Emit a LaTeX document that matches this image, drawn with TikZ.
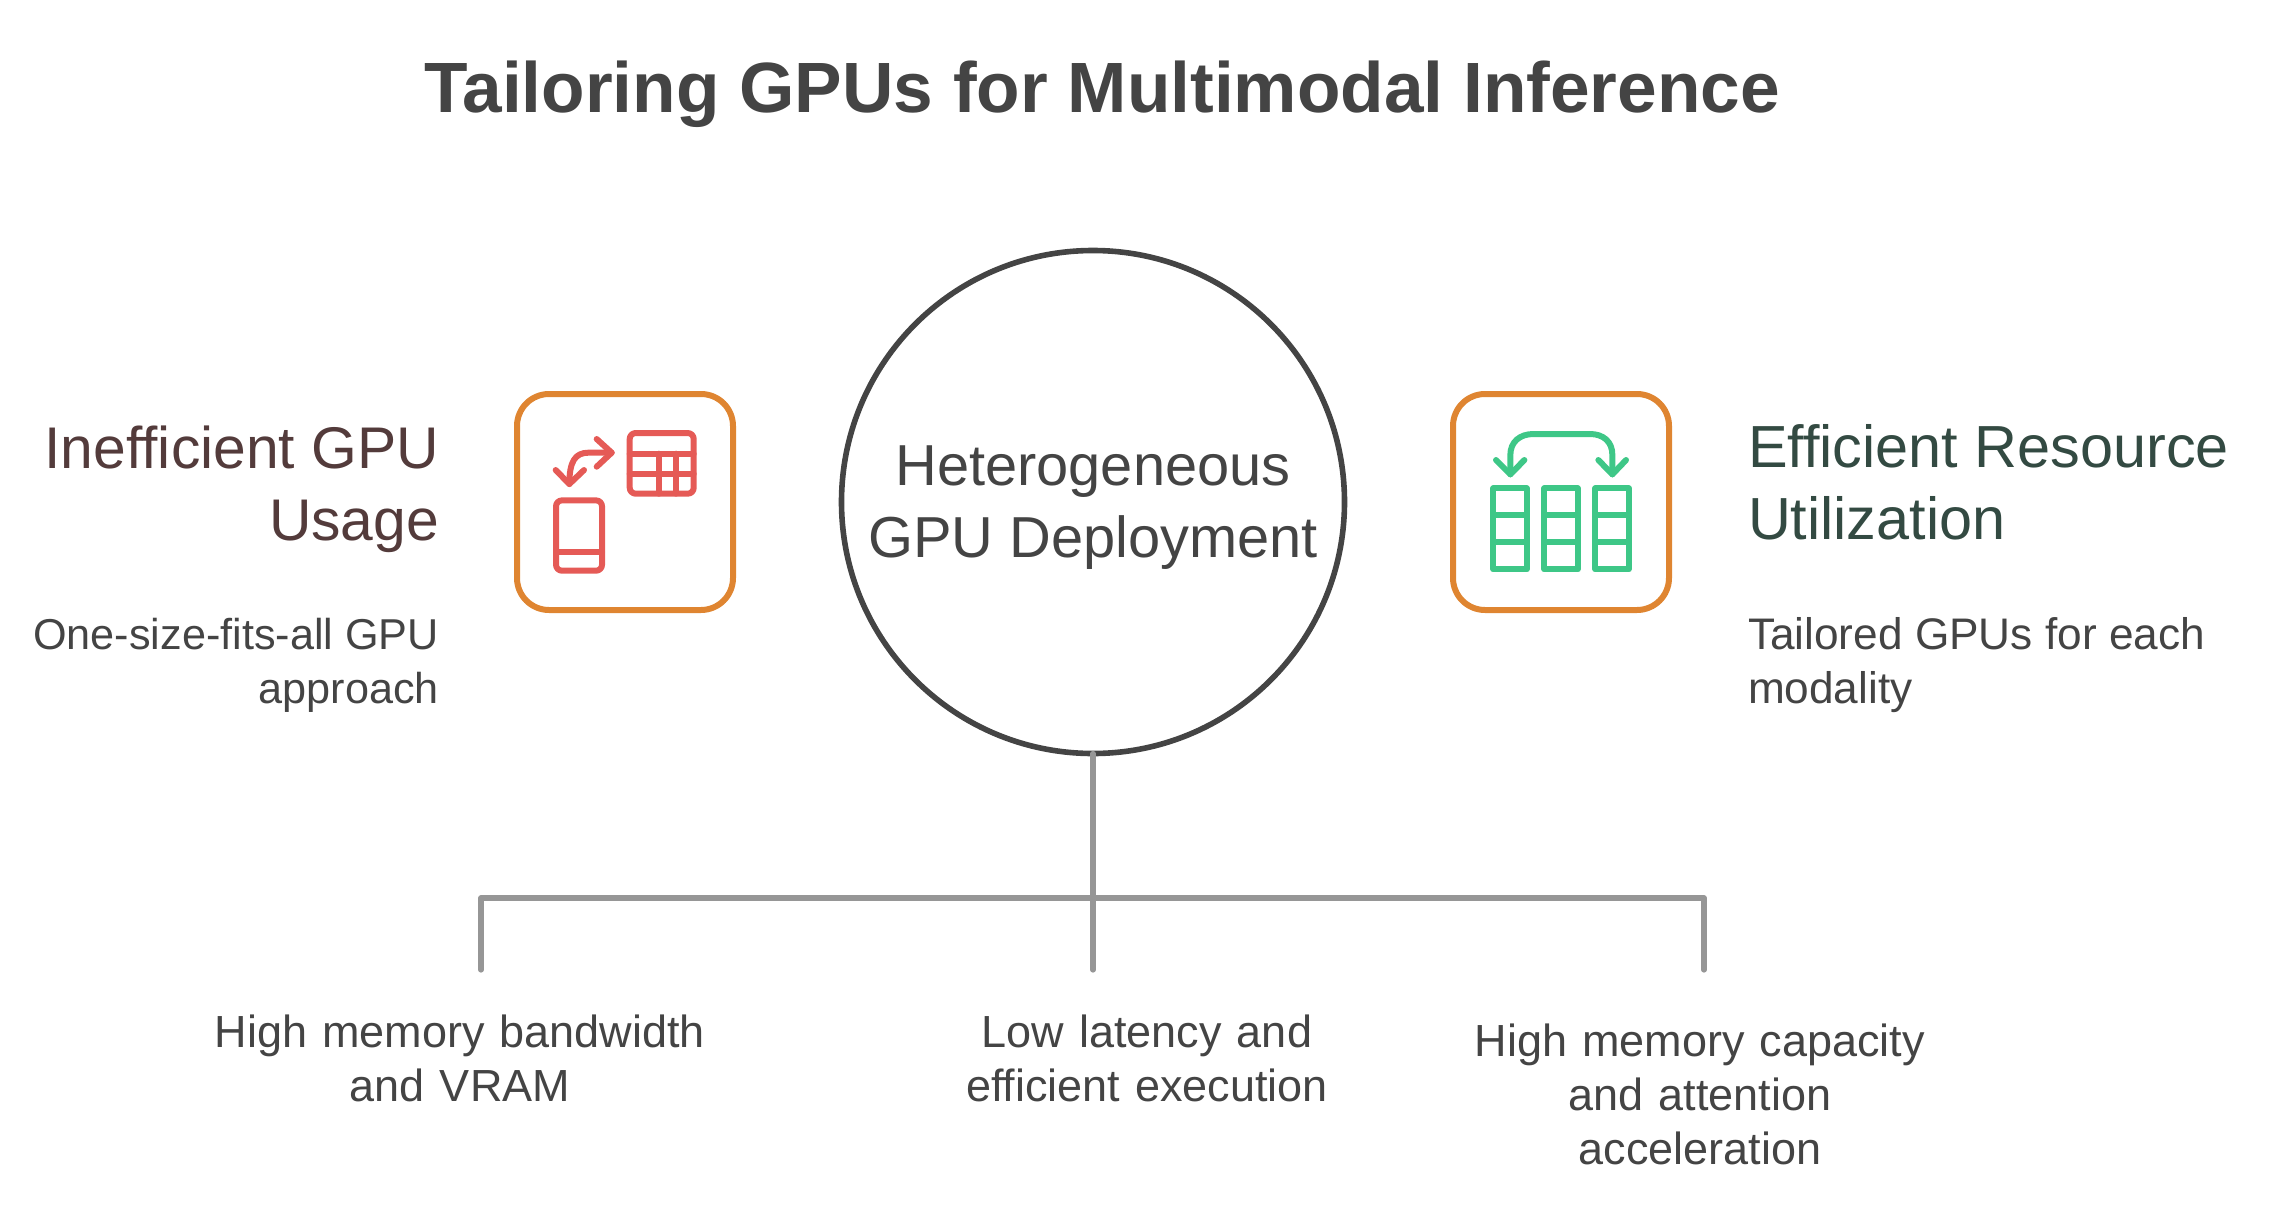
\documentclass[tikz,border=0pt]{standalone}
\usepackage{fontspec}
\setmainfont{Liberation Sans}
\usetikzlibrary{positioning}
\definecolor{darktxt}{HTML}{444444}
\definecolor{lefttxt}{HTML}{533B3B}
\definecolor{righttxt}{HTML}{334A42}
\definecolor{boxline}{HTML}{DF8531}
\definecolor{redicon}{HTML}{E55A56}
\definecolor{greenicon}{HTML}{3EC787}
\definecolor{branch}{HTML}{969696}

\begin{document}
\begin{tikzpicture}[
    x=0.5pt,
    y=-0.5pt,
    outer sep=0pt,
    inner sep=0pt,
    iconbox/.style={
        draw=boxline,
        line width=3pt,
        rounded corners=16pt,
        minimum size=108pt
    },
    hub/.style={
        draw=darktxt,
        line width=2.8pt,
        circle,
        minimum size=251.5pt
    },
    hubtxt/.style={
        align=center,
        text=darktxt,
        font=\fontsize{28.9}{36}\selectfont
    },
    head/.style={font=\fontsize{29.7}{36}\selectfont},
    body/.style={text=darktxt, font=\fontsize{22.5}{27}\selectfont},
    iconline/.style={line width=3pt, line cap=round, line join=round},
    leg/.style={draw=branch, line width=2.6pt, line cap=round}
]
\useasboundingbox (0,0) rectangle (2283,1205);

% ============================================================
% TITLE AND HUB
% ============================================================
\node[text=darktxt, font=\fontsize{35.6}{42}\selectfont\bfseries] (title) at (1102,94) {Tailoring GPUs for Multimodal Inference};
\node[hub] (hub) at (1093,502) {};
\node[hubtxt, yshift=-3pt] (hubtext) at (hub) {Heterogeneous\\GPU Deployment};

% ============================================================
% LEFT SIDE
% ============================================================
\node[iconbox, left=54.25pt of hub] (badbox) {};
\node[head, text=lefttxt, align=right, left=39pt of badbox, yshift=6.4pt, font=\fontsize{29.4}{36}\selectfont] (badhead) {Inefficient GPU\\Usage};
\node[body, align=right, below=32.8pt of badhead.south east, anchor=north east, font=\fontsize{21.6}{27}\selectfont] (baddesc) {One-size-fits-all GPU\\approach};

\begin{scope}[shift={(500,380)}, x=0.1667pt, y=-0.1667pt, draw=redicon, iconline]
    \draw[rounded corners=3pt] (389,159) rectangle (581,341);
    \draw (389,221) -- (581,221);
    \draw (389,281) -- (581,281);
    \draw (476,221) -- (476,341);
    \draw (528,221) -- (528,341);
    \draw[rounded corners=3pt] (168,361) rectangle (306,572);
    \draw (168,517) -- (306,517);
    \draw (290,177) -- (335,218) -- (290,260);
    \draw (335,218) -- (265,218) .. controls (225,218) and (208,245) .. (208,312);
    \draw (167,270) -- (208,312) -- (252,270);
\end{scope}

% ============================================================
% RIGHT SIDE
% ============================================================
\node[iconbox, right=54.25pt of hub] (goodbox) {};
\node[head, text=righttxt, align=left, right=39.5pt of goodbox, yshift=10pt] (goodhead) {Efficient Resource\\Utilization};
\node[body, align=left, below=38.8pt of goodhead.south west, anchor=north west, font=\fontsize{22.1}{27}\selectfont] (gooddesc) {Tailored GPUs for each\\modality};

\begin{scope}[shift={(1435,380)}, x=0.1667pt, y=-0.1667pt, draw=greenicon, iconline]
    \foreach \colx in {175,328,481} {
        \draw (\colx,325) rectangle ++(100,243);
        \draw (\colx,405) -- ++(100,0);
        \draw (\colx,487) -- ++(100,0);
    }
    \draw (226,283) -- (226,225) .. controls (226,185) and (255,162) .. (295,162) -- (465,162) .. controls (505,162) and (532,185) .. (532,225) -- (532,283);
    \draw (183,240) -- (226,283) -- (268,240);
    \draw (490,240) -- (532,283) -- (573,240);
\end{scope}

% ============================================================
% BRANCHES
% ============================================================
\coordinate (joint) at (1093,898);
\coordinate (legleft) at (481,970);
\coordinate (legmid) at (1093,970);
\coordinate (legright) at (1704,970);

\draw[leg] (hub.south) -- (legmid);
\draw[leg, line join=round] (legleft) |- (joint) -| (legright);

\node[body, align=center, text width=300pt] (bwlabel) at (460,1058) {High memory bandwidth\\and VRAM};
\node[body, align=center, text width=300pt] (latlabel) at (1147,1058) {Low latency and\\efficient execution};
\node[body, align=center, text width=300pt] (caplabel) at (1700,1094) {High memory capacity\\and attention\\acceleration};

\end{tikzpicture}
\end{document}
